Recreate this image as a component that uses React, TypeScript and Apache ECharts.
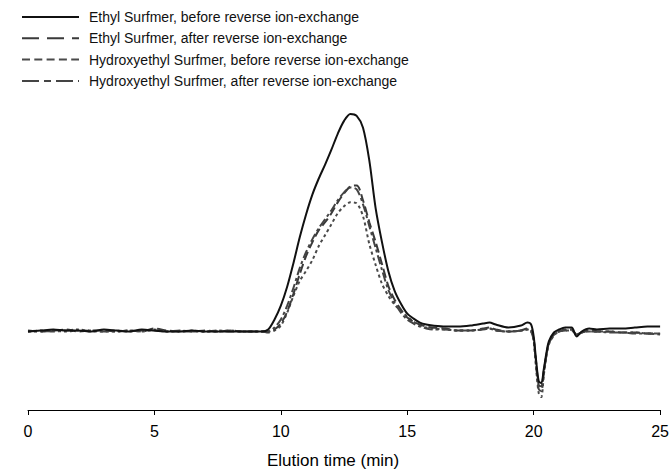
import React, { useEffect, useRef } from "react";
import * as echarts from "echarts";

// Elution time (min)
const time: number[] = [
  0, 0.5, 1, 1.5, 2, 2.5, 3, 3.5, 4, 4.5, 5, 5.5, 6, 6.5, 7, 7.5, 8, 8.5, 9,
  9.25, 9.5, 9.75, 10, 10.25, 10.5, 10.75, 11, 11.25, 11.5, 11.75, 12, 12.25, 12.5, 12.75, 13,
  13.25, 13.5, 13.75, 14, 14.25, 14.5, 14.75, 15, 15.25, 15.5, 15.75, 16,
  16.5, 17, 17.5, 18, 18.25, 18.5, 19, 19.5, 19.75, 19.9,
  20, 20.1, 20.2, 20.3, 20.4, 20.5, 20.6, 20.8,
  21, 21.25, 21.5, 21.7, 21.9, 22.2, 22.5, 23, 23.5, 24, 24.5, 25,
];

// Detector response (arbitrary units)
const ethylBefore: number[] = [
  0, 1, 2, 1, 1, 0, 2, 1, 0, 2, 1, 0, 0, 1, 0, 0, 0, 0, 0,
  0, 2, 12, 26, 45, 69, 95, 118, 138, 154, 168, 183, 199, 212, 219, 217,
  205, 172, 124, 90, 61, 41, 28, 18, 13, 9, 7, 6,
  5, 5, 6, 8, 9, 7, 4, 6, 9, 7,
  -5, -30, -50, -52, -38, -22, -10, -1,
  2, 4, 4, -5, 0, 3, 2, 3, 3, 4, 5, 5,
];

const ethylAfter: number[] = [
  1, 0, 1, 2, 0, 1, 1, 0, 1, 0, 3, 1, 0, 0, 1, 0, 1, 0, 0,
  0, -1, 2, 8, 20, 38, 58, 76, 90, 102, 110, 119, 130, 139, 146, 147,
  132, 110, 90, 68, 46, 32, 22, 14, 10, 7, 5, 4,
  3, 1, 1, 3, 4, 2, 0, 1, 3, 1,
  -8, -32, -54, -55, -40, -24, -12, -3,
  0, 2, 2, -4, -1, 1, 0, 0, -1, -1, -2, -2,
];

const hydroxyBefore: number[] = [
  0, 0, 1, 0, 1, 1, 0, 0, 1, 0, 2, 0, 0, 1, 0, 0, 1, 0, 0,
  0, 0, 1, 6, 19, 36, 51, 61, 72, 86, 97, 108, 119, 126, 130, 129,
  116, 88, 67, 48, 36, 27, 21, 15, 10, 6, 4, 3,
  2, 1, 1, 2, 3, 1, 0, 1, 2, 0,
  -10, -38, -62, -66, -44, -26, -13, -4,
  0, 1, 1, -3, -1, 0, 0, 0, -1, -1, -2, -2,
];

const hydroxyAfter: number[] = [
  0, 1, 0, 1, 2, 0, 0, 1, 0, 1, 1, 0, 1, 0, 0, 1, 0, 0, 0,
  0, 0, 4, 12, 26, 44, 64, 80, 93, 104, 113, 122, 132, 140, 145, 143,
  128, 106, 84, 62, 42, 29, 19, 12, 8, 5, 3, 2,
  2, 1, 1, 2, 3, 1, 0, 1, 2, 0,
  -9, -35, -58, -60, -42, -25, -12, -3,
  0, 1, 2, -3, -1, 0, 0, -1, -1, -2, -2, -3,
];

const seriesNames: string[] = [
  "Ethyl Surfmer, before reverse ion-exchange",
  "Ethyl Surfmer, after reverse ion-exchange",
  "Hydroxyethyl Surfmer, before reverse ion-exchange",
  "Hydroxyethyl Surfmer, after reverse ion-exchange",
];

const xTicks = { min: 0, max: 25, interval: 5 };

const FONT = "'Liberation Sans', Arial, Helvetica, sans-serif";

export default function App() {
  const ref = useRef<HTMLDivElement>(null);

  useEffect(() => {
    if (!ref.current) return;
    const chart = echarts.init(ref.current, undefined, { renderer: "svg" });
    const pairs = (vals: number[]) => time.map((t, i) => [t, vals[i]]);

    const styles = [
      { color: "#111111", plot: "solid" as any, legend: "solid" as any, z: 5, data: ethylBefore },
      { color: "#3a3a3a", plot: [9, 4], legend: [17, 8], z: 3, data: ethylAfter },
      { color: "#4a4a4a", plot: [3, 3], legend: [8, 4.3], z: 2, data: hydroxyBefore },
      { color: "#444444", plot: [9, 3, 3, 3], legend: [17, 5, 7, 5], z: 4, data: hydroxyAfter },
    ];

    chart.setOption({
      animation: false,
      backgroundColor: "#ffffff",
      grid: { left: 28, right: 11, top: 100, bottom: 62, containLabel: false },
      legend: {
        orient: "vertical",
        left: 21,
        top: 10,
        padding: 0,
        itemWidth: 57,
        itemHeight: 14,
        itemGap: 7.3,
        itemStyle: { opacity: 0 },
        textStyle: { fontSize: 14, color: "#111", fontFamily: FONT, padding: [0, 0, 0, 5] },
        data: seriesNames.map((n, i) => ({
          name: n,
          lineStyle: { type: styles[i].legend, width: 2, color: styles[i].color },
        })),
      },
      xAxis: {
        type: "value",
        min: xTicks.min,
        max: xTicks.max,
        interval: xTicks.interval,
        splitLine: { show: false },
        axisLine: { onZero: false, lineStyle: { color: "#000", width: 1 } },
        axisTick: { show: true, length: 5, inside: false, lineStyle: { color: "#000" } },
        axisLabel: { fontSize: 16, color: "#000", margin: 13, fontFamily: FONT },
        name: "Elution time (min)",
        nameLocation: "middle",
        nameGap: 42,
        nameTextStyle: { fontSize: 17, color: "#000", fontFamily: FONT, padding: [0, 22, 0, 0] },
      },
      yAxis: { type: "value", min: -79, max: 233, show: false },
      series: styles.map((s, i) => ({
        name: seriesNames[i],
        type: "line",
        data: pairs(s.data),
        showSymbol: false,
        symbol: "none",
        smooth: 0.3,
        z: s.z,
        itemStyle: { color: s.color },
        lineStyle: { color: s.color, width: 2, type: s.plot },
      })),
    });
    return () => chart.dispose();
  }, []);

  return (
    <div
      ref={ref}
      style={{ position: "fixed", left: 0, top: 0, width: 672, height: 474, background: "#fff" }}
    />
  );
}
